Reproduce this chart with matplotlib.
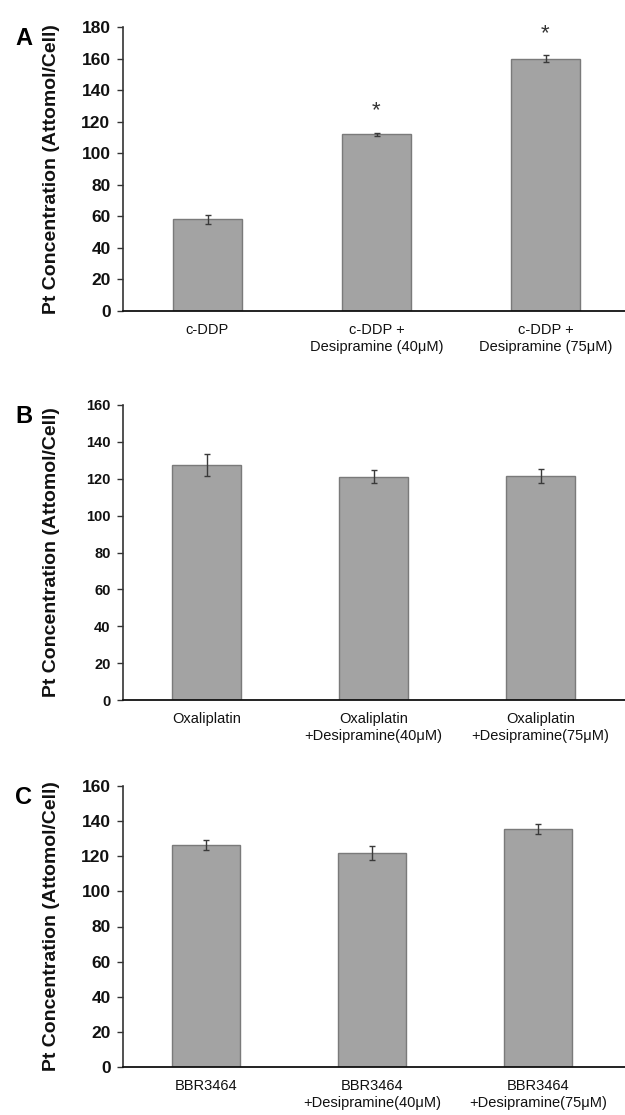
import matplotlib.pyplot as plt

plt.rcParams['font.family'] = ['Liberation Sans', 'DejaVu Sans']

# Panel A: cisplatin
labels_a = ["c-DDP", "c-DDP +\nDesipramine (40\u03bcM)", "c-DDP +\nDesipramine (75\u03bcM)"]
values_a = [58, 112, 160]
errors_a = [3, 1, 2]
signif_a = [False, True, True]

# Panel B: oxaliplatin
labels_b = ["Oxaliplatin", "Oxaliplatin\n+Desipramine(40\u03bcM)", "Oxaliplatin\n+Desipramine(75\u03bcM)"]
values_b = [127.5, 121, 121.5]
errors_b = [6, 3.5, 4]

# Panel C: BBR3464
labels_c = ["BBR3464", "BBR3464\n+Desipramine(40\u03bcM)", "BBR3464\n+Desipramine(75\u03bcM)"]
values_c = [126.5, 122, 135.5]
errors_c = [3, 4, 3]

ylabel = "Pt Concentration (Attomol/Cell)"

fig = plt.figure(figsize=(6.25, 11.15), dpi=100)

W, H = 625, 1115


def make_axes(top, bottom, spacing):
    left = 123
    right = 625
    ax = fig.add_axes([left / W, (H - bottom) / H, (right - left) / W, (bottom - top) / H])
    ax.set_xlim(-0.5, -0.5 + (right - left) / spacing)
    return ax


def draw_panel(ax, labels, values, errors, ymax, ystep, letter, tick_fs, label_fs):
    x = list(range(len(values)))
    ax.bar(x, values, width=0.41, color="#a3a3a3", edgecolor="#7a7a7a", linewidth=1.0, zorder=2)
    ax.errorbar(x, values, yerr=errors, fmt="none", ecolor="#3a3a3a", elinewidth=1.0,
                capsize=2, capthick=1.0, zorder=3)
    ax.set_ylim(0, ymax)
    ax.set_yticks(range(0, ymax + 1, ystep))
    ax.set_xticks(x)
    ax.set_xticklabels(labels, fontsize=label_fs, linespacing=1.25, color="#111111")
    ax.tick_params(axis="x", length=0, pad=9)
    ax.tick_params(axis="y", direction="out", length=4, width=1, color="#333333",
                   labelsize=tick_fs, pad=5)
    for t in ax.get_yticklabels():
        t.set_fontweight("bold")
        t.set_color("#111111")
    for s in ["top", "right"]:
        ax.spines[s].set_visible(False)
    ax.spines["left"].set_color("#333333")
    ax.spines["left"].set_linewidth(1.2)
    ax.spines["bottom"].set_color("#111111")
    ax.spines["bottom"].set_linewidth(1.3)
    ax.set_ylabel(ylabel, fontsize=14, fontweight="bold", color="#111111")
    ax.yaxis.set_label_coords(-0.125, 0.5)
    ax.text(-0.215, 1.0, letter, transform=ax.transAxes, fontsize=17, fontweight="bold",
            va="top", ha="left")


ax_a = make_axes(27, 311, 169)
draw_panel(ax_a, labels_a, values_a, errors_a, 180, 20, "A", 12.5, 10.5)
for i, (v, e, s) in enumerate(zip(values_a, errors_a, signif_a)):
    if s:
        ax_a.text(i, v + e + 14, "*", ha="center", va="center", fontsize=16, color="#333333")

ax_b = make_axes(405, 700, 167)
draw_panel(ax_b, labels_b, values_b, errors_b, 160, 20, "B", 10.5, 10.5)

ax_c = make_axes(786, 1067, 166)
draw_panel(ax_c, labels_c, values_c, errors_c, 160, 20, "C", 12.5, 10.5)

fig.savefig("out.png", dpi=100)
